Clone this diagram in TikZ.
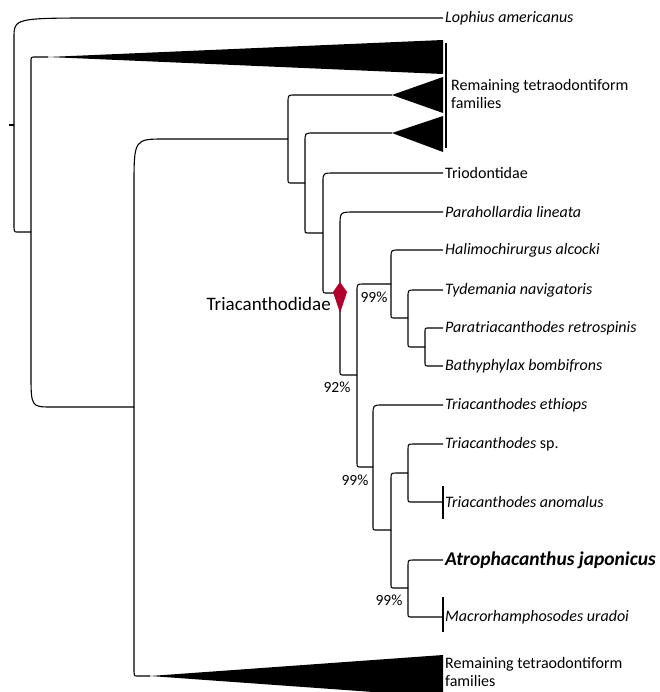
\documentclass[tikz,border=0pt]{standalone}
\usepackage{fontspec}
\setmainfont{Carlito}
\usetikzlibrary{calc}
\definecolor{nodered}{RGB}{178,0,42}
\newcommand\treeedge[4]{\draw[branch] (#1) -- ($(#1|-#2)!#4pt!(#1)$) .. controls (#1|-#2) .. ($(#1|-#2)!#3pt!(#2)$) -- (#2);}
\begin{document}
\begin{tikzpicture}[x=1pt,y=-1pt,
  branch/.style={line width=1.1pt, line join=round},
  leaf/.style={anchor=west, inner xsep=2pt, inner ysep=0pt, font=\fontsize{16}{18}\selectfont\itshape},
  plain/.style={anchor=west, inner xsep=2pt, inner ysep=0pt, font=\fontsize{16}{18}\selectfont},
  pct/.style={font=\fontsize{15.5}{17}\selectfont, inner sep=0pt},
  clade/.style={fill=black},
  tick/.style={line width=1.1pt}]
\useasboundingbox (0,0) rectangle (659,692);

% internal nodes
\coordinate (root) at (14,125);
\coordinate (n31) at (31,232);
\coordinate (n134) at (134,407);
\coordinate (n288) at (288,139);
\coordinate (n305) at (305,183);
\coordinate (n323) at (323,233);
\coordinate (n340) at (340,293);
\coordinate (n357) at (357,375);
\coordinate (n391a) at (391,284);
\coordinate (n408a) at (408,318);
\coordinate (n425) at (425,347);
\coordinate (n373) at (373,467);
\coordinate (n391b) at (391,530);
\coordinate (n408b) at (408,473);
\coordinate (n408c) at (408,588);

% leaves
\coordinate (lo) at (443,18);
\coordinate (tri1) at (48,57);
\coordinate (tri2) at (392,95);
\coordinate (tri3) at (392,133);
\coordinate (tri4) at (150,676);
\coordinate (trio) at (443,173);
\coordinate (para) at (443,212);
\coordinate (hali) at (443,250);
\coordinate (tyde) at (443,290);
\coordinate (prtr) at (443,328);
\coordinate (bath) at (443,366);
\coordinate (ethi) at (443,405);
\coordinate (tsp) at (443,444);
\coordinate (anom) at (443,502);
\coordinate (atro) at (443,560);
\coordinate (macr) at (443,617);
\coordinate (rootstub) at (9,125);

% collapsed clades
\fill[clade] (tri1) -- (443,40) -- (443,74) -- cycle;
\fill[clade] (tri2) -- (443,77) -- (443,113) -- cycle;
\fill[clade] (tri3) -- (443,116) -- (443,152) -- cycle;
\fill[clade] (tri4) -- (443,655) -- (443,697) -- cycle;

% branches
\draw[branch] (rootstub) -- (root);
\treeedge{root}{lo}{88}{20}
\treeedge{root}{n31}{3}{10}
\treeedge{n31}{tri1}{4}{5}
\treeedge{n31}{n134}{21}{34}
\treeedge{n134}{n288}{31}{48}
\treeedge{n134}{tri4}{3}{9}
\treeedge{n288}{tri2}{7}{8}
\treeedge{n288}{n305}{4}{4}
\treeedge{n305}{tri3}{8}{9}
\treeedge{n305}{n323}{3}{3}
\treeedge{n323}{trio}{12}{9}
\treeedge{n323}{n340}{4}{4}
\treeedge{n340}{para}{15}{14}
\treeedge{n340}{n357}{4}{4}
\treeedge{n357}{n391a}{6}{8}
\treeedge{n357}{n373}{4}{5}
\treeedge{n391a}{hali}{8}{8}
\treeedge{n391a}{n408a}{4}{4}
\treeedge{n408a}{tyde}{7}{7}
\treeedge{n408a}{n425}{4}{4}
\treeedge{n425}{prtr}{4}{4}
\treeedge{n425}{bath}{4}{4}
\treeedge{n373}{ethi}{10}{10}
\treeedge{n373}{n391b}{4}{4}
\treeedge{n391b}{n408b}{6}{6}
\treeedge{n391b}{n408c}{4}{4}
\treeedge{n408b}{tsp}{6}{6}
\treeedge{n408b}{anom}{4}{4}
\treeedge{n408c}{atro}{6}{6}
\treeedge{n408c}{macr}{4}{4}

% tip ticks
\draw[tick] ([yshift=-17pt]anom) -- ([yshift=16pt]anom);
\draw[tick] ([yshift=-15pt]macr) -- ([yshift=20pt]macr);

% clade bar
\coordinate (bartop) at (446,43);
\coordinate (barbot) at (446,148);
\draw[line width=1.7pt] (bartop) -- (barbot);

% red diamond
\fill[nodered] (340,282) -- (347,292) -- (340,313) -- (333,292) -- cycle;
\node[anchor=base east, inner sep=0pt, font=\fontsize{19}{22}\selectfont] (tri) at (331,310) {Triacanthodidae};

% labels
\node[leaf] (tlo) at (lo) {Lophius americanus};
\node[plain, align=left, font=\fontsize{16}{18.5}\selectfont] (trem1) at (449,94) {Remaining tetraodontiform\\families};
\node[plain] (ttrio) at (trio) {Triodontidae};
\node[leaf] (tpara) at (para) {Parahollardia lineata};
\node[leaf] (thali) at (hali) {Halimochirurgus alcocki};
\node[leaf] (ttyde) at (tyde) {Tydemania navigatoris};
\node[leaf] (tprtr) at (prtr) {Paratriacanthodes retrospinis};
\node[leaf] (tbath) at (bath) {Bathyphylax bombifrons};
\node[leaf] (tethi) at (ethi) {Triacanthodes ethiops};
\node[leaf] (ttsp) at (tsp) {Triacanthodes \upshape sp.};
\node[leaf] (tanom) at (anom) {Triacanthodes anomalus};
\node[leaf, font=\fontsize{19.5}{21}\selectfont\bfseries\itshape] (tatro) at (atro) {Atrophacanthus japonicus};
\node[leaf] (tmacr) at (macr) {Macrorhamphosodes uradoi};
\node[plain, align=left, font=\fontsize{16}{18}\selectfont] (trem2) at (443,672) {Remaining tetraodontiform\\families};

% support values
\node[pct] (s1) at (374,297) {99\%};
\node[pct] (s2) at (337,387) {92\%};
\node[pct] (s3) at (355,480) {99\%};
\node[pct] (s4) at (389,600) {99\%};
\end{tikzpicture}
\end{document}
